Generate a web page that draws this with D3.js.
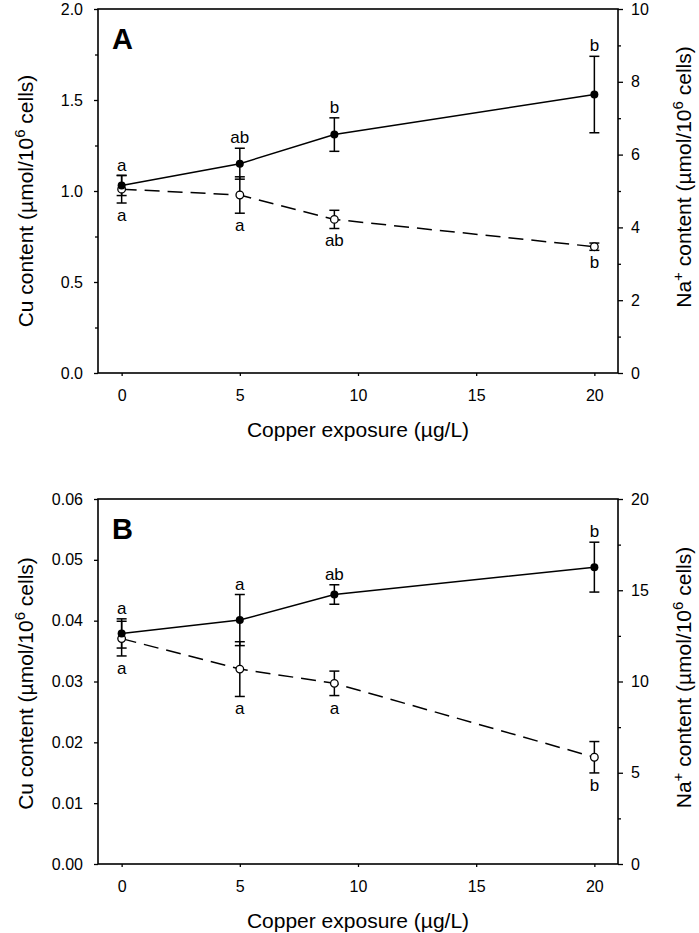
<!DOCTYPE html>
<html>
<head>
<meta charset="utf-8">
<script src="https://cdn.jsdelivr.net/npm/d3@7"></script>
<style>
  html, body { margin: 0; padding: 0; background: #fff; }
  text { font-family: "Liberation Sans", Arial, sans-serif; fill: #000; }
</style>
</head>
<body>
<svg id="chart" width="699" height="933"></svg>
<script>
// ---------- data ----------
const exposure = [0, 5, 9, 20];
const xTicks = [0, 5, 10, 15, 20];

// Panel A
const cuA = [1.03, 1.15, 1.31, 1.53];
const cuErrA = [0.055, 0.085, 0.092, 0.21];
const naA = [5.05, 4.89, 4.22, 3.47];
const naErrA = [0.38, 0.50, 0.25, 0.10];
const cuLettersA = ["a", "ab", "b", "b"];
const naLettersA = ["a", "a", "ab", "b"];
const cuTicksA = [0, 0.5, 1.0, 1.5, 2.0];
const cuMinorA = [0.25, 0.75, 1.25, 1.75];
const naTicksA = [0, 2, 4, 6, 8, 10];
const naMinorA = [1, 3, 5, 7, 9];

// Panel B
const cuB = [0.0379, 0.0401, 0.0443, 0.0488];
const cuErrB = [0.0024, 0.0042, 0.0016, 0.0041];
const naB = [12.35, 10.68, 9.9, 5.85];
const naErrB = [0.95, 1.5, 0.67, 0.86];
const cuLettersB = ["a", "a", "ab", "b"];
const naLettersB = ["a", "a", "a", "b"];
const cuTicksB = [0, 0.01, 0.02, 0.03, 0.04, 0.05, 0.06];
const cuMinorB = [];
const naTicksB = [0, 5, 10, 15, 20];
const naMinorB = [2.5, 7.5, 12.5, 17.5];

// ---------- drawing ----------
const svg = d3.select("#chart");

function drawPanel(o) {
  const left = 98, right = 618;
  const x = d3.scaleLinear().domain([-1, 21]).range([left, right]);
  const yL = d3.scaleLinear().domain(o.cuDomain).range([o.bottom, o.top]);
  const yR = d3.scaleLinear().domain(o.naDomain).range([o.bottom, o.top]);
  const g = svg.append("g");

  // frame
  g.append("rect").attr("x", left).attr("y", o.top)
    .attr("width", right - left).attr("height", o.bottom - o.top)
    .attr("fill", "none").attr("stroke", "#000").attr("stroke-width", 1.6);

  // x axis
  const xAx = g.append("g").attr("transform", `translate(0,${o.bottom})`)
    .call(d3.axisBottom(x).tickValues(xTicks).tickSize(3).tickPadding(14).tickFormat(d3.format("d")));
  xAx.select(".domain").remove();
  xAx.selectAll("line").attr("stroke-width", 1.3);
  xAx.selectAll("text").attr("font-size", 16).attr("font-family", "Liberation Sans, Arial, sans-serif");

  // left axis
  const lAx = g.append("g").attr("transform", `translate(${left},0)`)
    .call(d3.axisLeft(yL).tickValues(o.cuTicks).tickSize(4).tickPadding(11).tickFormat(d3.format(o.cuFmt)));
  lAx.select(".domain").remove();
  lAx.selectAll("line").attr("stroke-width", 1.3);
  lAx.selectAll("text").attr("font-size", 16).attr("font-family", "Liberation Sans, Arial, sans-serif");
  if (o.cuMinor.length) {
    const lm = g.append("g").attr("transform", `translate(${left},0)`)
      .call(d3.axisLeft(yL).tickValues(o.cuMinor).tickSize(3).tickFormat(""));
    lm.select(".domain").remove();
    lm.selectAll("line").attr("stroke-width", 1.3);
  }

  // right axis
  const rAx = g.append("g").attr("transform", `translate(${right},0)`)
    .call(d3.axisRight(yR).tickValues(o.naTicks).tickSize(5).tickPadding(8).tickFormat(d3.format("d")));
  rAx.select(".domain").remove();
  rAx.selectAll("line").attr("stroke-width", 1.3);
  rAx.selectAll("text").attr("font-size", 16).attr("font-family", "Liberation Sans, Arial, sans-serif");
  const rm = g.append("g").attr("transform", `translate(${right},0)`)
    .call(d3.axisRight(yR).tickValues(o.naMinor).tickSize(3).tickFormat(""));
  rm.select(".domain").remove();
  rm.selectAll("line").attr("stroke-width", 1.3);

  // axis titles
  const mid = (o.top + o.bottom) / 2;
  g.append("text").attr("x", (left + right) / 2).attr("y", o.bottom + 64)
    .attr("text-anchor", "middle").attr("font-size", 21)
    .text("Copper exposure (µg/L)");

  const lt = g.append("text")
    .attr("transform", `translate(33,${mid + o.lShift}) rotate(-90)`)
    .attr("text-anchor", "middle").attr("font-size", 21);
  lt.append("tspan").text("Cu content (µmol/10");
  lt.append("tspan").attr("dy", -8).attr("font-size", 15).text("6");
  lt.append("tspan").attr("dy", 8).text(" cells)");

  const rt = g.append("text")
    .attr("transform", `translate(691,${mid + o.rShift}) rotate(-90)`)
    .attr("text-anchor", "middle").attr("font-size", 21);
  rt.append("tspan").text("Na");
  rt.append("tspan").attr("dy", -8).attr("font-size", 15).text("+");
  rt.append("tspan").attr("dy", 8).text(" content (µmol/10");
  rt.append("tspan").attr("dy", -8).attr("font-size", 15).text("6");
  rt.append("tspan").attr("dy", 8).text(" cells)");

  // panel letter
  g.append("text").attr("x", 112).attr("y", o.top + 40)
    .attr("font-size", 29).attr("font-weight", "bold").text(o.label);

  const cuData = exposure.map((e, i) => ({ x: e, y: o.cu[i], err: o.cuErr[i], lab: o.cuLetters[i] }));
  const naData = exposure.map((e, i) => ({ x: e, y: o.na[i], err: o.naErr[i], lab: o.naLetters[i] }));

  // lines
  g.append("path").datum(cuData)
    .attr("d", d3.line().x(d => x(d.x)).y(d => yL(d.y)))
    .attr("fill", "none").attr("stroke", "#000").attr("stroke-width", 1.5);
  g.append("path").datum(naData)
    .attr("d", d3.line().x(d => x(d.x)).y(d => yR(d.y)))
    .attr("fill", "none").attr("stroke", "#000").attr("stroke-width", 1.5)
    .attr("stroke-dasharray", "15,8");

  function errBars(data, y) {
    const eg = g.append("g").attr("stroke", "#000").attr("stroke-width", 1.5);
    data.forEach(d => {
      const cx = x(d.x), t = y(d.y + d.err), b = y(d.y - d.err);
      eg.append("line").attr("x1", cx).attr("x2", cx).attr("y1", t).attr("y2", b);
      eg.append("line").attr("x1", cx - 5).attr("x2", cx + 5).attr("y1", t).attr("y2", t);
      eg.append("line").attr("x1", cx - 5).attr("x2", cx + 5).attr("y1", b).attr("y2", b);
    });
  }
  errBars(cuData, yL);
  errBars(naData, yR);

  // markers
  g.selectAll(null).data(naData).join("circle")
    .attr("cx", d => x(d.x)).attr("cy", d => yR(d.y)).attr("r", 3.8)
    .attr("fill", "#fff").attr("stroke", "#000").attr("stroke-width", 1.3);
  g.selectAll(null).data(cuData).join("circle")
    .attr("cx", d => x(d.x)).attr("cy", d => yL(d.y)).attr("r", 4)
    .attr("fill", "#000");

  // significance letters
  g.selectAll(null).data(cuData).join("text")
    .attr("x", d => x(d.x)).attr("y", d => yL(d.y + d.err) - 5)
    .attr("text-anchor", "middle").attr("font-size", 17).text(d => d.lab);
  g.selectAll(null).data(naData).join("text")
    .attr("x", d => x(d.x)).attr("y", d => yR(d.y - d.err) + 18)
    .attr("text-anchor", "middle").attr("font-size", 17).text(d => d.lab);
}

drawPanel({
  label: "A", top: 9, bottom: 373,
  cuDomain: [0, 2], naDomain: [0, 10], cuFmt: ".1f",
  cu: cuA, cuErr: cuErrA, na: naA, naErr: naErrA,
  cuLetters: cuLettersA, naLetters: naLettersA,
  cuTicks: cuTicksA, cuMinor: cuMinorA, naTicks: naTicksA, naMinor: naMinorA,
  lShift: 10, rShift: -14
});
drawPanel({
  label: "B", top: 499, bottom: 864,
  cuDomain: [0, 0.06], naDomain: [0, 20], cuFmt: ".2f",
  cu: cuB, cuErr: cuErrB, na: naB, naErr: naErrB,
  cuLetters: cuLettersB, naLetters: naLettersB,
  cuTicks: cuTicksB, cuMinor: cuMinorB, naTicks: naTicksB, naMinor: naMinorB,
  lShift: 2, rShift: -4
});
</script>
</body>
</html>
